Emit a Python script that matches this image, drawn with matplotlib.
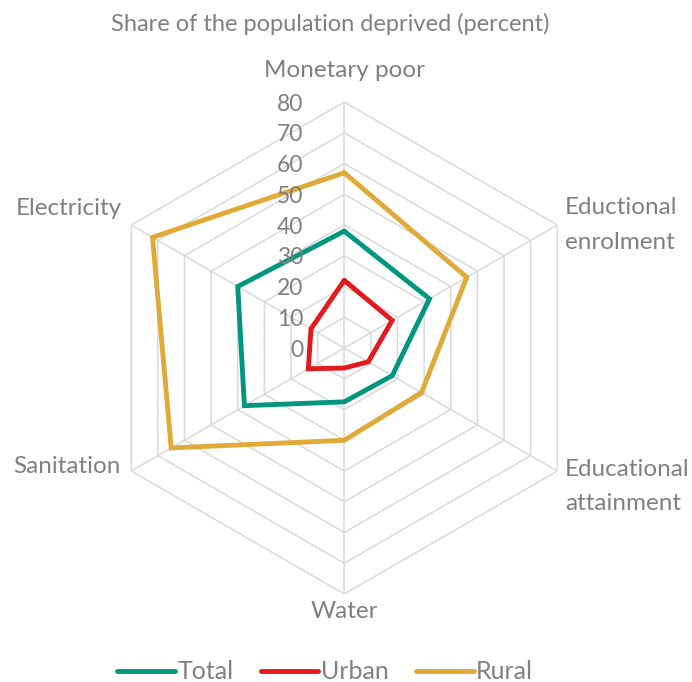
import numpy as np
import matplotlib.pyplot as plt

plt.rcParams['font.family'] = ['Lato', 'DejaVu Sans']

categories = ['Monetary poor', 'Eductional\nenrolment', 'Educational\nattainment',
              'Water', 'Sanitation', 'Electricity']
total = [38, 32, 18, 17.5, 37.5, 40]
urban = [22, 18, 9, 6.5, 13.5, 12.5]
rural = [57, 46, 29, 30, 65, 72]
levels = [0, 10, 20, 30, 40, 50, 60, 70, 80]

gray_txt = '#808080'
grid_col = '#d9d9d9'

fig = plt.figure(figsize=(6.92, 6.82), dpi=100)
ax = fig.add_axes([0.142, 0.129, 0.711, 0.7214], polar=True)
ax.set_theta_offset(np.pi / 2)
ax.set_theta_direction(-1)

n = len(categories)
angles = np.linspace(0, 2 * np.pi, n, endpoint=False)
closed = np.append(angles, angles[0])

# hexagon grid + spokes
for lv in levels[1:]:
    ax.plot(closed, [lv] * (n + 1), color=grid_col, lw=1.1, zorder=1)
for a in angles:
    ax.plot([a, a], [0, 80], color=grid_col, lw=1.1, zorder=1)

series = [('Total', total, '#00967f'), ('Urban', urban, '#e31a1c'), ('Rural', rural, '#dfaa37')]
for name, vals, col in series:
    ax.plot(closed, list(vals) + [vals[0]], color=col, lw=3.5, label=name,
            solid_joinstyle='miter', solid_capstyle='round', zorder=3)

ax.set_ylim(0, 80)
ax.grid(False)
ax.spines['polar'].set_visible(False)
ax.set_xticks([])
ax.set_yticks([])
ax.patch.set_alpha(0)

# radial labels
for lv in levels:
    ax.annotate(str(lv), xy=(0, lv), xytext=(-29.5, 0), textcoords='offset points',
                ha='right', va='center_baseline', fontsize=16.5, color=gray_txt, zorder=4)

# category labels
offsets = [((0, 18), 'center', 'baseline'), ((5.4, 0), 'left', 'center'),
           ((5.4, -11), 'left', 'center'), ((0, -5), 'center', 'top'),
           ((-8, 3.5), 'right', 'center'), ((-7, 12), 'right', 'center')]
for a, lab, (off, ha, va) in zip(angles, categories, offsets):
    ax.annotate(lab, xy=(a, 80), xytext=off, textcoords='offset points',
                ha=ha, va=va, fontsize=17.5, color=gray_txt, linespacing=1.8)

fig.text(0.477, 0.965, 'Share of the population deprived (percent)', ha='center', va='center',
         fontsize=17, color=gray_txt)

leg = fig.legend(loc='lower center', bbox_to_anchor=(0.47, -0.035), ncol=3, frameon=False,
                 fontsize=18, handlelength=2.3, handletextpad=0.1, columnspacing=1.1)
for t in leg.get_texts():
    t.set_color(gray_txt)

fig.savefig('out.png', dpi=100)
